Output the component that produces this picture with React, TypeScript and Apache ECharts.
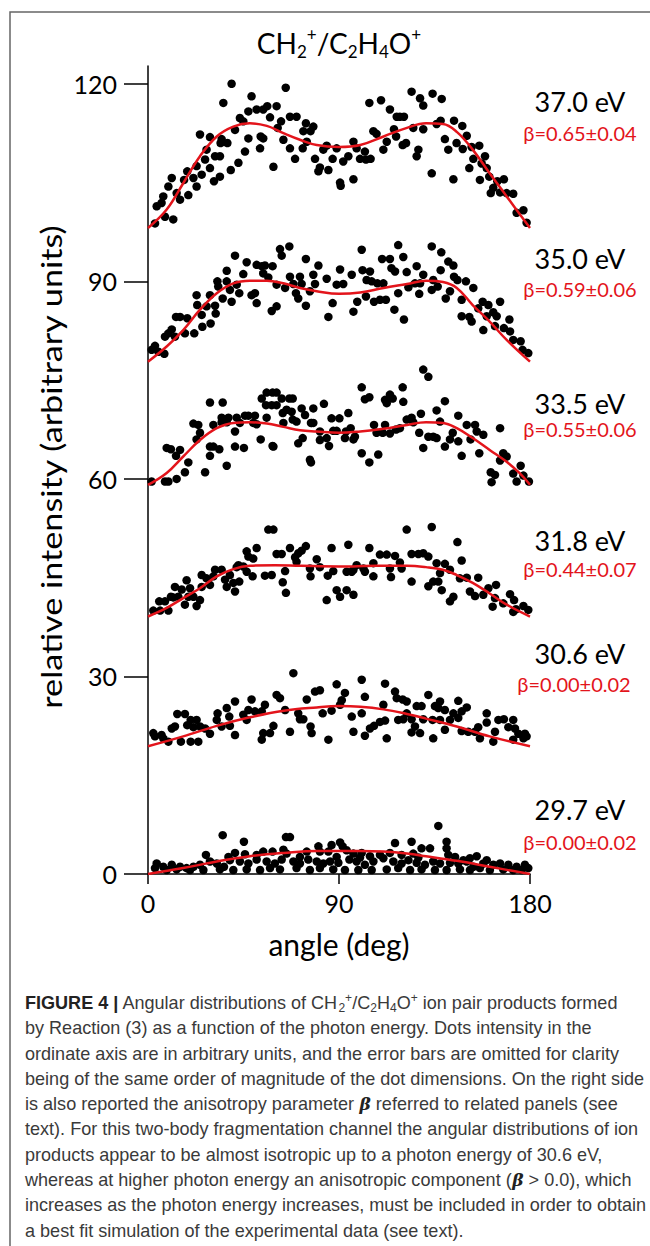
import React, { useEffect, useRef } from "react";
import * as echarts from "echarts";

// ---------- data ----------
const xTicks = [0, 90, 180];
const yTicks = [0, 30, 60, 90, 120];
const energyLabels = ["37.0 eV", "35.0 eV", "33.5 eV", "31.8 eV", "30.6 eV", "29.7 eV"];
const betaLabels = ["β=0.65±0.04", "β=0.59±0.06", "β=0.55±0.06", "β=0.44±0.07", "β=0.00±0.02", "β=0.00±0.02"];

const pts370 = [[3.3,98.8],[4.1,101.4],[6.4,101.9],[8.0,99.8],[7.2,102.9],[9.6,104.4],[11.2,105.7],[11.9,99.4],[13.5,103.4],[15.1,102.4],[17.0,105.4],[19.0,103.1],[18.5,106.7],[21.4,105.7],[22.9,104.4],[22.9,107.5],[24.5,112.3],[25.3,106.2],[27.6,110.0],[26.9,108.5],[29.2,111.9],[29.2,107.2],[31.1,105.2],[31.6,109.0],[33.9,109.0],[33.9,105.9],[34.2,111.0],[35.5,117.1],[34.7,111.6],[37.4,111.0],[39.0,106.9],[39.4,120.0],[41.0,113.0],[42.6,108.0],[43.3,114.8],[44.9,114.3],[45.7,109.7],[47.3,115.8],[47.3,111.7],[48.8,118.1],[51.2,116.1],[52.8,110.2],[53.1,112.0],[54.3,111.7],[54.3,116.1],[56.2,116.6],[57.5,114.9],[59.1,107.4],[60.6,116.6],[61.1,113.3],[62.7,114.3],[63.8,111.5],[64.9,119.4],[66.9,115.0],[66.9,110.2],[70.0,115.0],[69.3,108.6],[72.9,110.2],[73.2,112.8],[74.4,114.0],[74.8,111.2],[76.6,112.8],[77.9,113.5],[78.7,108.6],[80.3,106.7],[81.0,107.3],[82.6,110.0],[84.2,110.6],[85.0,106.9],[87.0,108.6],[88.9,110.2],[90.5,105.0],[90.8,104.5],[92.0,108.2],[94.4,109.0],[96.8,111.2],[96.8,105.5],[98.3,110.2],[99.9,108.6],[102.2,109.7],[102.7,108.5],[104.3,117.1],[104.9,108.6],[106.2,112.8],[107.7,112.4],[109.8,117.5],[110.9,110.0],[112.5,111.2],[114.0,116.1],[115.9,113.1],[116.9,112.0],[117.2,115.0],[118.7,115.0],[120.0,110.7],[120.6,115.0],[121.6,111.0],[124.2,118.8],[125.0,113.3],[126.6,109.0],[127.4,110.0],[128.2,117.8],[129.7,116.7],[129.7,113.1],[133.7,106.4],[134.1,118.5],[136.0,113.9],[138.4,117.7],[137.9,114.4],[139.9,111.6],[141.5,110.0],[143.9,105.5],[144.2,114.4],[145.4,111.0],[148.1,113.6],[148.3,110.1],[150.2,112.1],[151.4,107.2],[152.5,110.4],[153.3,108.6],[156.1,110.6],[156.4,105.4],[157.2,107.9],[158.8,109.0],[159.6,107.2],[160.8,105.9],[161.5,103.4],[162.7,104.2],[164.6,105.2],[165.9,103.5],[167.7,105.5],[169.0,103.4],[172.1,103.3],[173.7,100.4],[176.9,100.8],[178.4,98.9]];

const pts350 = [[1.7,79.6],[3.3,80.2],[4.9,79.3],[7.7,79.0],[8.0,81.6],[9.6,82.1],[11.2,82.7],[12.7,81.6],[13.2,84.6],[15.1,84.6],[17.4,82.1],[18.5,84.4],[21.8,82.1],[22.9,87.9],[23.2,86.4],[25.3,84.9],[25.6,83.1],[27.6,86.2],[29.2,87.9],[29.5,83.6],[31.6,86.3],[31.9,85.1],[32.7,90.0],[33.1,89.2],[35.2,87.4],[37.1,91.6],[37.1,90.0],[38.6,88.7],[39.4,86.9],[41.0,93.9],[41.8,89.5],[43.0,88.2],[44.9,91.1],[46.5,92.9],[48.8,87.9],[50.4,88.2],[51.2,92.5],[51.2,86.7],[53.6,92.3],[54.3,91.2],[55.1,92.4],[56.7,90.6],[58.7,92.3],[58.3,85.5],[60.6,86.2],[60.6,89.5],[62.2,94.9],[63.0,93.9],[64.6,89.0],[66.6,95.3],[66.9,90.7],[68.5,89.6],[69.7,88.2],[70.8,87.4],[71.6,90.7],[72.4,89.6],[74.4,93.4],[74.4,86.3],[76.3,88.5],[77.9,91.0],[78.7,89.6],[80.3,92.4],[84.2,90.4],[85.0,84.6],[87.0,86.7],[88.9,89.5],[90.5,91.8],[92.0,89.6],[96.0,91.0],[96.8,85.4],[98.6,86.9],[100.7,94.8],[101.1,91.7],[102.7,87.7],[103.0,90.2],[104.6,91.5],[105.4,90.0],[106.5,86.9],[108.1,89.7],[109.3,87.2],[110.3,93.4],[110.9,89.7],[112.1,87.2],[114.0,93.4],[114.7,92.0],[116.1,85.7],[116.4,91.5],[117.9,88.2],[117.9,95.5],[120.3,93.7],[120.6,84.2],[121.9,91.4],[122.7,89.1],[125.8,89.7],[126.6,92.3],[127.8,88.1],[128.2,89.7],[129.7,91.0],[133.7,95.3],[133.7,88.7],[134.4,90.2],[136.5,89.2],[138.2,94.4],[137.9,91.7],[140.3,87.4],[141.5,93.0],[142.3,88.5],[143.9,92.4],[144.2,90.7],[145.8,90.2],[147.8,87.2],[147.8,84.7],[149.8,90.0],[151.4,84.6],[152.5,83.9],[153.3,89.0],[155.6,85.9],[157.7,86.9],[158.0,82.6],[159.6,84.7],[160.4,86.4],[162.7,85.3],[163.5,83.2],[164.3,84.7],[165.9,86.9],[167.7,82.9],[170.3,84.2],[170.6,82.4],[172.1,81.1],[175.6,80.9],[176.5,79.6],[179.2,79.1]];

const pts335 = [[129.7,76.6],[132.1,75.5],[100.7,73.9],[102.2,72.1],[104.3,72.4],[120.0,73.9],[111.7,72.0],[114.0,72.8],[115.3,72.2],[112.5,71.5],[120.3,71.7],[139.9,71.8],[29.2,71.6],[35.2,71.6],[53.6,72.2],[55.9,73.1],[58.7,73.1],[60.6,73.1],[60.6,71.2],[55.6,71.2],[58.3,71.2],[63.0,72.2],[66.6,72.2],[68.2,72.2],[63.5,70.0],[65.3,70.5],[67.7,70.2],[68.2,69.0],[70.0,68.7],[72.4,70.7],[74.0,69.7],[77.9,70.7],[82.9,71.4],[86.5,69.2],[90.2,69.2],[94.4,70.0],[77.9,68.5],[77.1,68.5],[63.8,68.5],[41.8,69.3],[37.9,69.3],[34.7,69.3],[43.3,68.5],[45.7,69.6],[47.3,69.6],[50.4,69.6],[51.2,68.3],[55.9,69.3],[21.4,68.4],[23.7,68.2],[24.5,67.0],[30.8,68.2],[34.7,68.6],[37.1,68.6],[41.0,67.2],[49.6,68.5],[53.1,66.0],[58.7,65.0],[70.8,65.4],[72.9,66.2],[76.8,68.5],[81.0,67.2],[81.0,65.9],[84.2,66.2],[85.3,65.0],[87.3,67.3],[88.9,67.3],[92.8,66.2],[93.3,67.2],[95.5,67.7],[96.8,66.0],[97.5,66.4],[100.7,63.9],[106.5,68.2],[107.7,67.0],[110.6,67.0],[111.7,68.2],[114.0,66.9],[116.9,67.5],[118.7,67.7],[121.9,69.0],[124.2,69.3],[125.0,68.6],[127.8,67.0],[128.6,69.9],[129.7,64.7],[132.1,66.4],[134.4,66.4],[136.0,66.2],[136.0,70.4],[137.6,68.7],[139.9,64.9],[142.3,66.0],[143.6,67.0],[146.2,69.6],[146.2,65.7],[147.8,63.5],[150.2,68.2],[152.0,66.0],[154.1,68.2],[154.9,67.2],[158.0,66.7],[156.1,63.9],[165.9,67.7],[167.4,63.9],[22.9,66.0],[29.2,64.9],[30.8,64.9],[33.6,64.5],[41.0,64.9],[45.2,64.7],[59.1,64.9],[76.3,62.9],[8.8,64.7],[10.8,64.5],[15.1,64.4],[13.2,63.5],[19.0,62.5],[17.4,61.0],[26.9,61.0],[29.2,63.5],[37.1,62.0],[76.8,62.5],[104.3,62.5],[108.5,63.7],[161.5,61.0],[163.5,60.6],[161.9,59.5],[165.9,62.8],[169.0,63.4],[172.1,60.8],[173.7,59.6],[175.6,62.0],[176.9,60.5],[179.5,59.6],[1.7,59.6],[8.0,59.6],[9.6,59.6],[13.5,60.0]];

const pts318 = [[56.7,52.3],[59.1,52.3],[121.9,52.3],[133.7,52.7],[145.8,50.4],[147.8,47.6],[46.5,49.0],[51.2,49.5],[49.6,47.9],[47.3,48.2],[60.6,48.6],[63.0,48.6],[66.9,49.5],[69.3,48.1],[70.8,48.7],[72.4,49.1],[74.4,49.8],[79.5,47.8],[86.5,49.5],[94.4,50.0],[104.3,49.5],[109.3,48.5],[112.5,48.5],[116.4,48.3],[124.2,48.6],[127.4,48.6],[129.7,48.7],[132.1,48.2],[118.7,47.3],[70.0,47.4],[64.6,46.0],[76.3,46.4],[81.0,46.6],[87.3,46.0],[93.6,45.9],[96.8,46.2],[98.3,46.9],[102.2,45.9],[106.2,47.2],[114.0,46.4],[119.5,46.4],[136.0,47.2],[139.9,47.1],[142.3,46.2],[137.6,45.7],[34.7,46.2],[31.6,46.2],[38.6,45.4],[42.6,46.9],[44.9,46.7],[41.8,46.6],[46.5,45.9],[49.3,45.2],[55.1,45.3],[58.3,45.4],[25.3,45.4],[27.6,44.9],[30.8,45.2],[25.3,43.6],[29.2,43.9],[36.3,44.7],[37.1,43.6],[40.2,44.2],[41.0,42.9],[43.0,44.4],[63.5,44.3],[65.0,42.7],[76.6,45.2],[84.7,45.3],[88.9,43.1],[90.5,42.1],[93.6,43.1],[96.8,42.4],[84.2,41.6],[96.0,45.9],[101.5,46.4],[106.2,45.2],[114.5,45.1],[124.2,44.4],[132.1,43.7],[134.4,44.4],[136.8,44.4],[138.4,43.1],[142.3,41.4],[143.9,42.1],[147.0,44.9],[150.2,45.0],[151.7,42.9],[154.1,42.2],[155.6,45.0],[158.0,42.4],[160.4,43.4],[164.0,43.9],[163.5,41.9],[162.4,40.6],[167.4,41.1],[170.6,42.5],[172.5,41.6],[173.4,40.2],[176.9,40.7],[179.2,40.1],[172.1,39.8],[18.2,44.6],[15.9,43.2],[19.8,43.4],[12.7,43.6],[14.3,42.1],[17.4,40.9],[19.0,42.1],[21.4,42.1],[22.9,40.7],[24.5,41.6],[11.9,42.0],[10.8,42.1],[9.6,40.0],[5.3,41.4],[8.0,41.4],[2.5,40.0],[5.7,40.0]];

const pts306 = [[68.5,30.5],[88.9,28.8],[100.7,29.5],[111.7,28.9],[81.0,27.9],[78.7,27.7],[92.8,27.5],[91.3,26.4],[102.2,26.9],[116.4,27.7],[117.2,26.7],[120.0,26.5],[121.9,26.2],[132.1,27.2],[137.6,26.2],[146.2,26.3],[150.2,25.3],[147.8,24.7],[143.9,24.4],[139.9,24.9],[135.2,25.5],[136.8,25.2],[126.6,25.5],[128.9,25.5],[60.6,27.2],[62.2,26.7],[74.8,26.5],[48.8,26.5],[41.0,26.2],[37.1,25.2],[32.8,24.4],[32.4,23.4],[34.7,22.4],[38.3,23.9],[38.6,22.5],[41.0,21.1],[44.9,24.2],[47.3,24.9],[46.5,23.4],[50.4,24.7],[53.6,24.7],[55.1,25.7],[53.6,20.4],[54.3,21.4],[57.5,21.4],[59.1,22.5],[66.9,21.6],[64.6,24.9],[70.8,24.4],[71.6,23.5],[73.2,23.5],[77.1,21.4],[76.6,22.4],[82.3,24.4],[85.0,20.4],[86.5,24.8],[90.5,25.7],[96.0,23.9],[96.8,21.6],[100.7,24.4],[102.2,21.0],[104.6,22.1],[106.5,22.5],[109.3,23.1],[111.7,23.3],[112.5,20.6],[110.9,25.7],[117.9,23.4],[120.3,23.5],[121.9,24.4],[124.2,23.5],[124.2,21.5],[125.8,22.4],[128.2,21.4],[129.7,23.5],[134.1,23.4],[134.4,20.6],[137.6,23.4],[139.9,21.9],[142.3,23.4],[146.2,23.7],[147.8,21.7],[150.9,21.6],[154.1,21.6],[155.6,22.3],[156.4,20.6],[159.6,24.4],[159.6,23.0],[162.7,20.1],[163.5,21.6],[165.1,23.4],[167.7,23.5],[169.8,22.3],[172.1,23.4],[172.9,22.1],[172.1,20.4],[174.5,21.3],[177.6,21.3],[178.4,20.9],[176.9,20.6],[2.5,21.4],[3.3,20.9],[6.4,21.1],[7.2,20.6],[9.6,20.1],[11.2,22.1],[12.7,22.4],[13.8,24.3],[15.5,20.1],[17.4,24.3],[18.5,22.6],[20.1,23.4],[20.1,20.1],[22.9,23.4],[21.4,22.3],[23.7,20.1],[26.9,22.1],[29.2,21.3],[24.5,22.4]];

const pts297 = [[136.8,7.3],[35.2,5.9],[45.2,4.9],[65.0,5.6],[66.9,5.6],[80.3,4.2],[86.5,4.4],[90.5,4.8],[91.7,4.2],[116.4,4.7],[124.2,4.9],[140.7,4.9],[140.7,3.9],[27.3,2.9],[41.0,3.2],[45.7,3.0],[54.3,3.4],[58.7,3.4],[63.8,3.7],[65.3,3.1],[74.8,3.4],[81.0,3.4],[85.0,3.4],[88.9,2.6],[93.6,3.6],[96.8,3.1],[100.7,3.2],[104.6,2.7],[109.3,2.9],[114.0,3.2],[119.5,2.9],[125.0,3.1],[128.9,3.9],[132.9,3.9],[141.5,2.9],[144.7,2.6],[148.6,2.1],[154.9,2.7],[159.6,2.1],[4.1,1.6],[3.3,0.9],[7.2,1.1],[11.2,1.4],[15.1,1.1],[18.2,0.9],[21.4,1.1],[24.5,1.4],[29.2,1.9],[32.4,1.6],[35.8,1.1],[38.6,2.1],[43.3,1.9],[47.3,1.6],[51.2,2.2],[55.9,1.9],[59.8,1.6],[63.0,2.2],[68.5,1.9],[71.6,1.6],[75.5,2.2],[79.5,1.9],[82.6,1.6],[85.8,1.9],[89.7,1.7],[94.9,2.2],[98.3,1.9],[102.2,1.4],[106.2,1.9],[110.9,2.4],[115.6,1.9],[119.5,1.6],[122.7,2.1],[126.6,1.7],[130.5,1.4],[134.4,1.9],[137.6,1.6],[142.3,1.7],[146.2,1.6],[150.2,1.9],[153.3,1.1],[158.0,1.6],[162.7,1.4],[165.9,1.6],[169.8,1.4],[173.7,1.1],[177.6,1.4],[179.2,0.9],[8.8,0.6],[13.5,0.7],[19.8,0.6],[26.1,0.6],[33.9,0.7],[40.2,0.6],[46.5,0.7],[52.8,0.6],[57.5,0.9],[62.2,0.7],[70.0,0.9],[76.3,0.6],[81.0,0.9],[87.3,0.7],[92.8,0.6],[99.1,0.6],[105.4,0.6],[112.5,0.7],[117.9,0.9],[123.5,0.6],[128.9,0.7],[135.2,0.6],[140.7,0.6],[147.0,0.7],[151.7,0.6],[156.4,0.9],[161.1,0.6],[167.4,0.7],[172.1,0.6],[176.1,0.6],[37.9,2.6],[51.2,2.9],[71.6,2.6],[99.9,2.5],[127.4,2.5],[151.7,2.4]];

const fit370 = [[0,98.1],[8.8,100.9],[16.6,104.9],[24.5,109.0],[32.4,112.0],[40.2,113.5],[48,114.0],[56,113.6],[63.8,112.5],[71.6,111.5],[79.5,110.7],[90,110.4],[100,110.7],[111,112.0],[122,113.3],[131,114.0],[139,113.9],[145.5,112.7],[153,110.0],[161,106.4],[169,102.9],[180,98.1]];
const fit350 = [[0,77.8],[8.8,80.1],[16.6,82.6],[24.5,85.7],[32.4,88.2],[40.2,89.7],[48,90.1],[56,90.1],[63.8,89.7],[71.6,89.0],[79.5,88.5],[90,88.1],[100,88.3],[111,89.0],[122,89.6],[131,90.1],[139,89.9],[145.5,89.0],[153,86.4],[161,83.9],[169,81.1],[180,77.8]];
const fit335 = [[0,59.1],[8.8,60.9],[16.6,63.4],[24.5,65.9],[32.4,67.7],[40.2,68.5],[48,68.6],[56,68.4],[63.8,67.9],[71.6,67.4],[79.5,67.2],[90,67.0],[100,67.2],[111,67.6],[122,68.2],[131,68.6],[139,68.5],[145.5,67.7],[153,66.2],[161,64.4],[169,62.6],[175,60.9],[180,59.1]];
const fit318 = [[0,39.1],[8.8,40.4],[16.6,41.9],[24.5,43.4],[32.4,45.2],[40.2,46.3],[48,46.8],[60,46.9],[72,46.8],[90,46.7],[108,46.8],[122,46.8],[131,46.6],[139,46.2],[145.5,45.4],[153,44.2],[161,42.6],[169,40.9],[180,39.1]];
const fit306 = [[0,19.4],[16.6,20.9],[32.4,22.5],[48,23.8],[64,24.8],[79.5,25.3],[90,25.5],[100,25.4],[111,25.0],[122,24.3],[131,23.6],[145.5,22.4],[161,20.9],[180,19.4]];
const fit297 = [[0,0],[16.6,0.9],[32.4,1.9],[48,2.7],[64,3.2],[79.5,3.5],[90,3.5],[100,3.5],[111,3.4],[122,3.1],[131,2.7],[145.5,2.0],[161,1.1],[180,0]];

const panels = [pts370, pts350, pts335, pts318, pts306, pts297];
const fits = [fit370, fit350, fit335, fit318, fit306, fit297];

const captionLines = [
  "{b|FIGURE 4 |} Angular distributions of CH{s|2}{p|+}/C{s|2}H{s|4}O{p|+} ion pair products formed",
  "by Reaction (3) as a function of the photon energy. Dots intensity in the",
  "ordinate axis are in arbitrary units, and the error bars are omitted for clarity",
  "being of the same order of magnitude of the dot dimensions. On the right side",
  "is also reported the anisotropy parameter {g|β} referred to related panels (see",
  "text). For this two-body fragmentation channel the angular distributions of ion",
  "products appear to be almost isotropic up to a photon energy of 30.6 eV,",
  "whereas at higher photon energy an anisotropic component ({g|β} > 0.0), which",
  "increases as the photon energy increases, must be included in order to obtain",
  "a best fit simulation of the experimental data (see text).",
];

const FONT = "Lato, 'Open Sans', sans-serif";
const CAP_FONT = "'Liberation Sans', Arial, sans-serif";
const RED = "#e3141b";

function measure(text: string, font: string): number {
  const c = document.createElement("canvas").getContext("2d");
  if (!c) return 0;
  c.font = font;
  return c.measureText(text).width;
}

export default function App() {
  const ref = useRef<HTMLDivElement>(null);
  useEffect(() => {
    if (!ref.current) return;
    const chart = echarts.init(ref.current, null, { renderer: "svg" });

    const labelY = [101, 258, 403, 540, 653, 809];
    const betaY = [133, 289, 429, 569, 684, 842];
    const betaX = [580, 580, 580, 580, 574, 580];

    // condense the caption font so that the widest line spans like the reference
    const refLine = "being of the same order of magnitude of the dot dimensions. On the right side";
    const w = measure(refLine, `18px 'Liberation Sans'`);
    const capScale = w > 0 ? 620 / w : 0.88;

    const graphics: any[] = [
      {
        type: "rect",
        shape: { x: 10, y: 12, width: 700, height: 1300 },
        style: { fill: "none", stroke: "#666", lineWidth: 1.5 },
        silent: true,
      },
      {
        type: "text",
        x: 339,
        y: 43,
        style: {
          text: "CH{s|2}{p|+}/C{s|2}H{s|4}O{p|+}",
          fontFamily: FONT,
          fontSize: 28,
          fill: "#000",
          align: "center",
          verticalAlign: "middle",
          rich: {
            s: { fontSize: 17, fontFamily: FONT, verticalAlign: "bottom", lineHeight: 34 },
            p: { fontSize: 17, fontFamily: FONT, verticalAlign: "top", lineHeight: 34 },
          },
        },
      },
      {
        type: "text",
        x: 339,
        y: 944,
        style: { text: "angle (deg)", fontFamily: FONT, fontSize: 30, fill: "#000", align: "center", verticalAlign: "middle" },
      },
      {
        type: "text",
        x: 51,
        y: 467,
        rotation: Math.PI / 2,
        scaleX: 1.2,
        style: { text: "relative intensity (arbitrary units)", fontFamily: FONT, fontSize: 28.5, fill: "#000", align: "center", verticalAlign: "middle" },
      },
    ];
    energyLabels.forEach((t, i) => {
      graphics.push({
        type: "text", x: 580, y: labelY[i],
        style: { text: t, fontFamily: FONT, fontSize: 27, fill: "#000", align: "center", verticalAlign: "middle" },
      });
      graphics.push({
        type: "text", x: betaX[i], y: betaY[i],
        style: { text: betaLabels[i], fontFamily: FONT, fontSize: 20, fill: RED, align: "center", verticalAlign: "middle" },
      });
    });
    captionLines.forEach((t, i) => {
      graphics.push({
        type: "text", x: 25, y: 1003 + i * 25.3,
        scaleX: capScale,
        style: {
          text: t, fontFamily: CAP_FONT, fontSize: 18, fill: "#3a3a3a", align: "left", verticalAlign: "middle",
          rich: {
            b: { fontFamily: CAP_FONT, fontSize: 18, fontWeight: "bold", fill: "#222" },
            s: { fontFamily: CAP_FONT, fontSize: 12, verticalAlign: "bottom", lineHeight: 22, fill: "#3a3a3a" },
            p: { fontFamily: CAP_FONT, fontSize: 12, verticalAlign: "top", lineHeight: 22, fill: "#3a3a3a" },
            g: { fontFamily: "'DejaVu Serif', serif", fontSize: 17, fontWeight: "bold", fontStyle: "italic", fill: "#222" },
          },
        },
      });
    });

    const series: any[] = [];
    panels.forEach((p, i) => {
      series.push({
        type: "scatter", data: p, symbol: "circle", symbolSize: 8.5,
        itemStyle: { color: "#000", opacity: 1 }, z: 2, silent: true,
      });
      series.push({
        type: "line", data: fits[i], smooth: 0.4, showSymbol: false, symbol: "none",
        lineStyle: { color: RED, width: 2.5 }, z: 3, silent: true,
      });
    });

    chart.setOption({
      animation: false,
      backgroundColor: "#fff",
      textStyle: { fontFamily: FONT },
      grid: { left: 148, top: 66, width: 382, height: 808, containLabel: false },
      xAxis: {
        type: "value", min: 0, max: 180, interval: 90,
        axisLine: { show: true, lineStyle: { color: "#000", width: 1.5 } },
        axisTick: { show: true, length: 10, lineStyle: { color: "#000", width: 1.5 }, customValues: xTicks },
        axisLabel: { show: true, fontSize: 25, color: "#000", margin: 16, fontFamily: FONT, customValues: xTicks },
        splitLine: { show: false },
      },
      yAxis: {
        type: "value", min: 0, max: 122.7, interval: 30,
        axisLine: { show: true, lineStyle: { color: "#000", width: 1.5 } },
        axisTick: { show: true, length: 24, lineStyle: { color: "#000", width: 1.5 }, customValues: yTicks },
        axisLabel: { show: true, fontSize: 25, color: "#000", margin: 31, fontFamily: FONT, customValues: yTicks },
        splitLine: { show: false },
      },
      graphic: graphics,
      series,
    });
    return () => chart.dispose();
  }, []);
  return (
    <div
      ref={ref}
      style={{ position: "absolute", left: 0, top: 0, width: 650, height: 1246, background: "#fff" }}
    />
  );
}
